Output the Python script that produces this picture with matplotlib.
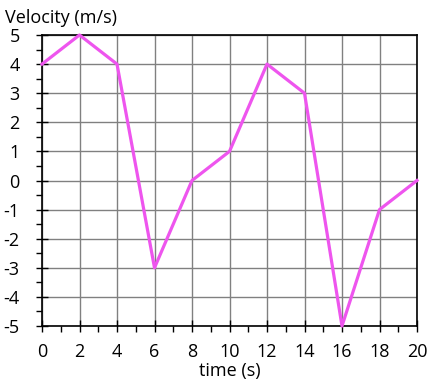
import matplotlib
matplotlib.use("Agg")
import matplotlib.pyplot as plt
from matplotlib.ticker import MultipleLocator

time_s = [0, 2, 4, 6, 8, 10, 12, 14, 16, 18, 20]
velocity = [4, 5, 4, -3, 0, 1, 4, 3, -5, -1, 0]

plt.rcParams['font.family'] = ['Open Sans', 'DejaVu Sans']
plt.rcParams['axes.unicode_minus'] = False
fig = plt.figure(figsize=(4.32, 3.86), dpi=100)
ax = fig.add_axes([42/432, 1-326/386, (417-42)/432, (326-35)/386])
ax.plot(time_s, velocity, color='#EE55EE', lw=2.3, zorder=3, clip_on=False)
ax.set_xlim(0, 20)
ax.set_ylim(-5, 5)
ax.xaxis.set_major_locator(MultipleLocator(2))
ax.xaxis.set_minor_locator(MultipleLocator(1))
ax.yaxis.set_major_locator(MultipleLocator(1))
ax.yaxis.set_minor_locator(MultipleLocator(0.5))
ax.grid(True, which='major', color='#808080', lw=1.0)
for s in ax.spines.values():
    s.set_color('black'); s.set_linewidth(1.2)
ax.tick_params(which='major', direction='inout', length=8, width=1, labelsize=13)
ax.tick_params(which='minor', direction='out', length=4, width=1)
ax.tick_params(axis='x', which='major', pad=8)
ax.tick_params(axis='y', which='major', pad=12)
ax.set_xlabel('time (s)', fontsize=13, labelpad=1)
fig.text(5/432, 1-18/386, 'Velocity (m/s)', fontsize=13, va='center', ha='left')
fig.savefig('out.png', dpi=100)
